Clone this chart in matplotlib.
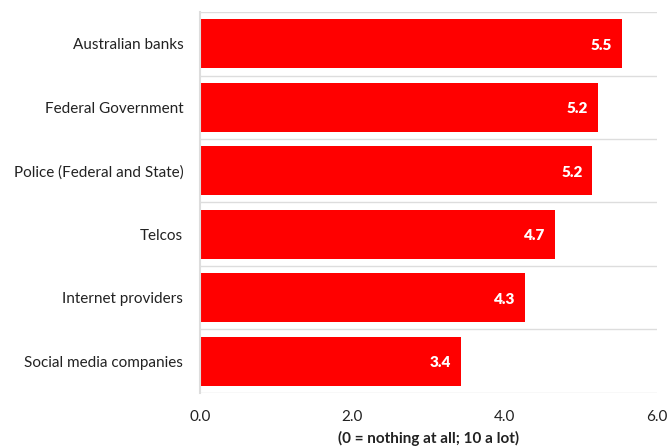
import matplotlib.pyplot as plt
from matplotlib import ticker

plt.rcParams['font.family'] = ['Lato', 'DejaVu Sans']

categories = ['Australian banks', 'Federal Government', 'Police (Federal and State)',
              'Telcos', 'Internet providers', 'Social media companies']
scores = [5.54, 5.22, 5.15, 4.66, 4.27, 3.42]
xticks = [0, 2, 4, 6]

fig = plt.figure(figsize=(6.67, 4.48), dpi=100)
ax = fig.add_axes([0.2999, 0.123, 0.6852, 0.850])

pos = range(len(categories))
bars = ax.barh(pos, scores, height=0.77, color='#ff0000', zorder=2)

for rect, v in zip(bars, scores):
    ax.annotate(f'{v:.1f}', (rect.get_width(), rect.get_y() + rect.get_height() / 2),
                xytext=(-7, -1), textcoords='offset points', ha='right', va='center',
                color='white', fontweight='heavy', fontsize=11)

ax.set_xlim(0, 6)
ax.set_ylim(len(categories) - 0.5, -0.5)
ax.set_yticks(list(pos))
ax.set_yticklabels(categories, fontsize=11, color='#222222')
ax.yaxis.set_minor_locator(ticker.MultipleLocator(1, offset=0.5))
ax.set_xticks(xticks)
ax.xaxis.set_major_formatter(ticker.FormatStrFormatter('%.1f'))
ax.tick_params(axis='x', length=0, pad=12, labelsize=11, labelcolor='#222222')
ax.tick_params(axis='y', which='both', length=0, pad=12)

ax.grid(axis='y', which='minor', color='#dddddd', linewidth=1, zorder=0)
ax.grid(axis='y', which='major', visible=False)
ax.spines[['right', 'top', 'bottom']].set_visible(False)
ax.spines['left'].set_color('#dddddd')
ax.spines['left'].set_linewidth(1.5)

ax.set_xlabel('(0 = nothing at all; 10 a lot)', fontweight='bold', fontsize=11,
              color='#222222', labelpad=5)

fig.savefig('out.png')
